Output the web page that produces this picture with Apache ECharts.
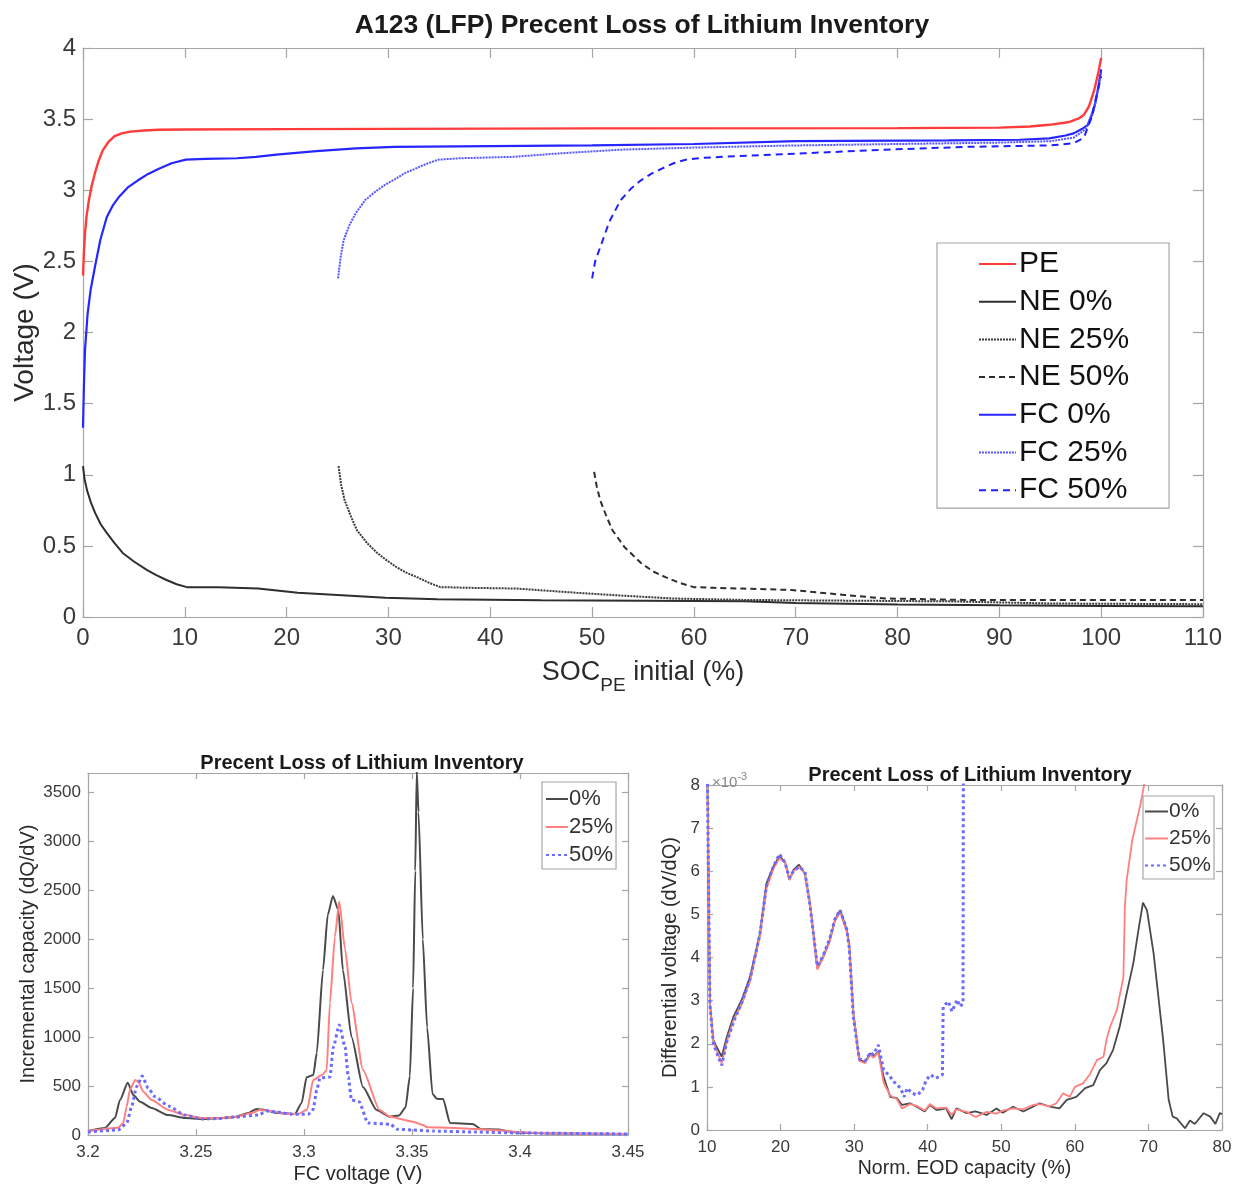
<!DOCTYPE html>
<html><head><meta charset="utf-8">
<script src="https://cdn.jsdelivr.net/npm/echarts@6/dist/echarts.min.js"></script>
<style>html,body{margin:0;padding:0;background:#fff}#c{width:1239px;height:1188px}</style>
</head><body><div id="c"></div>
<script>
// ---------- Top plot: voltage vs SOC_PE initial ----------
const topXTicks = {min: 0, max: 110, interval: 10};
const topYTicks = {min: 0, max: 4, interval: 0.5};
const PE = [[0,2.40],[0.1,2.58],[0.2,2.70],[0.35,2.82],[0.58,2.93],[0.85,3.03],[1.17,3.12],[1.5,3.20],[1.94,3.28],[2.5,3.34],[3.1,3.38],[3.8,3.40],[4.65,3.412],[6,3.42],[7.4,3.425],[10,3.427],[20,3.43],[50,3.435],[80,3.437],[90,3.44],[93,3.448],[94.9,3.46],[96.9,3.48],[97.8,3.505],[98.3,3.53],[98.8,3.59],[99.3,3.70],[99.7,3.82],[100,3.93]];
const NE0 = [[0,1.06],[0.15,0.97],[0.4,0.89],[0.8,0.80],[1.2,0.73],[1.75,0.65],[2.35,0.59],[3.1,0.52],[3.9,0.45],[5,0.39],[6.3,0.33],[7.2,0.295],[8.2,0.26],[9.2,0.23],[10.2,0.21],[13.3,0.21],[17.2,0.2],[21.1,0.17],[25,0.155],[29.7,0.135],[34.8,0.125],[45,0.118],[55,0.115],[65,0.11],[70,0.098],[80,0.088],[90,0.082],[100,0.078],[110,0.075]];
const NE25 = [[25.1,1.06],[25.35,0.93],[25.7,0.82],[26.3,0.71],[26.9,0.61],[27.9,0.52],[28.9,0.45],[29.8,0.40],[30.8,0.35],[31.8,0.31],[32.8,0.28],[34,0.24],[35.1,0.21],[38,0.205],[42.6,0.2],[48.5,0.17],[53,0.15],[58,0.13],[65,0.12],[75,0.115],[85,0.11],[95,0.095],[110,0.09]];
const NE50 = [[50.2,1.02],[50.45,0.92],[50.8,0.82],[51.4,0.71],[52,0.61],[53.2,0.49],[54.8,0.38],[56,0.32],[57.2,0.28],[58.6,0.24],[60,0.21],[62,0.205],[64.8,0.2],[69.6,0.19],[74.8,0.155],[78.8,0.13],[86.8,0.12],[110,0.12]];
const FC0 = [[0,1.33],[0.1,1.65],[0.2,1.88],[0.45,2.13],[0.75,2.30],[1.17,2.46],[1.7,2.65],[2.33,2.81],[2.9,2.89],[3.5,2.95],[4.4,3.02],[5.4,3.07],[6.4,3.115],[7.4,3.15],[8.7,3.19],[10.1,3.215],[12,3.22],[15.1,3.225],[17,3.235],[19,3.25],[22.9,3.275],[26.8,3.295],[30.6,3.305],[40,3.31],[50,3.315],[60,3.325],[70,3.345],[85,3.35],[92,3.355],[94.9,3.365],[96.5,3.385],[97.3,3.40],[98.1,3.43],[98.7,3.46],[99.2,3.55],[99.5,3.64],[99.8,3.76],[100,3.85]];
const FC25 = [[25.05,2.38],[25.3,2.53],[25.6,2.65],[26.2,2.76],[26.8,2.84],[27.7,2.93],[28.7,2.99],[29.7,3.04],[30.7,3.08],[31.6,3.12],[32.6,3.15],[33.7,3.185],[34.9,3.215],[37,3.225],[42.3,3.235],[47,3.26],[52.7,3.285],[60,3.30],[70,3.315],[80,3.325],[90,3.335],[95,3.345],[97.3,3.37],[98.5,3.43],[99.4,3.6],[100,3.83]];
const FC50 = [[50,2.38],[50.3,2.50],[50.8,2.60],[51.7,2.78],[52.8,2.93],[53.8,3.01],[54.8,3.07],[55.8,3.115],[56.8,3.15],[58,3.19],[59.2,3.215],[61,3.228],[62.8,3.235],[70.8,3.26],[78.8,3.285],[86.8,3.305],[94.9,3.315],[97.3,3.33],[98.3,3.37],[99,3.5],[100,3.80]];

// ---------- Bottom-left: incremental capacity ----------
const icXTicks = {min: 3.2, max: 3.45, interval: 0.05};
const icYTicks = {min: 0, max: 3700, interval: 500};
const IC0 = [[3.2,41],[3.2079,72],[3.2125,174],[3.2148,358],[3.2184,535],[3.221,409],[3.2241,340],[3.2295,276],[3.237,204],[3.2449,174],[3.2526,164],[3.26,170],[3.268,184],[3.2742,225],[3.2781,266],[3.282,256],[3.2866,228],[3.2958,215],[3.2989,327],[3.3012,590],[3.3043,613],[3.3059,838],[3.3088,1687],[3.311,2250],[3.3134,2444],[3.3159,2300],[3.318,1687],[3.322,1002],[3.3273,490],[3.3336,256],[3.3398,187],[3.344,200],[3.347,280],[3.349,600],[3.3505,1500],[3.3515,2700],[3.3522,3720],[3.353,3300],[3.355,2000],[3.357,1100],[3.3595,420],[3.3615,370],[3.3644,368],[3.3676,123],[3.378,113],[3.382,60],[3.39,55],[3.395,35],[3.4,22],[3.42,15],[3.45,10]];
const IC25 = [[3.2,41],[3.214,75],[3.2163,123],[3.2179,290],[3.2194,460],[3.2218,562],[3.2233,545],[3.2256,443],[3.2295,358],[3.2372,256],[3.245,204],[3.2526,174],[3.26,172],[3.268,184],[3.2758,225],[3.2796,256],[3.285,245],[3.2912,215],[3.2974,215],[3.3015,260],[3.3042,560],[3.3083,613],[3.3105,665],[3.312,1350],[3.3143,2025],[3.3163,2386],[3.319,1900],[3.322,1350],[3.3273,665],[3.335,256],[3.3398,187],[3.3505,136],[3.355,102],[3.357,80],[3.37,72],[3.3796,61],[3.39,48],[3.4,28],[3.42,15],[3.45,10]];
const IC50 = [[3.2,31],[3.214,51],[3.2179,119],[3.2202,290],[3.2225,494],[3.2251,603],[3.2279,477],[3.231,392],[3.2372,297],[3.245,204],[3.2526,164],[3.26,168],[3.268,184],[3.2789,204],[3.2827,245],[3.2874,235],[3.2943,212],[3.302,212],[3.3042,260],[3.3059,460],[3.3074,583],[3.312,593],[3.3136,900],[3.3163,1125],[3.319,900],[3.3205,593],[3.322,358],[3.3255,340],[3.3296,123],[3.34,110],[3.343,60],[3.35,51],[3.36,40],[3.38,30],[3.4,20],[3.45,10]];

// ---------- Bottom-right: differential voltage (x10^-3) ----------
const dvXTicks = {min: 10, max: 80, interval: 10};
const dvYTicks = {min: 0, max: 8, interval: 1};
const DV0 = [[10,9],[10.4,2.94],[10.86,2.09],[11.3,1.93],[12.0,1.70],[12.7,2.16],[13.6,2.63],[14.7,3.01],[15.85,3.55],[17.2,4.56],[18.1,5.72],[19.0,6.1],[19.85,6.35],[20.6,6.22],[21.2,5.8],[21.75,6.03],[22.5,6.15],[23.3,5.95],[24.0,5.26],[25.0,3.75],[25.8,4.02],[26.7,4.41],[27.4,4.87],[28.1,5.10],[29.0,4.64],[29.35,4.25],[29.9,2.71],[30.7,1.62],[31.5,1.58],[32.2,1.78],[32.6,1.7],[33.3,1.82],[34.0,1.24],[34.9,0.77],[35.8,0.74],[36.5,0.58],[37.6,0.62],[38.5,0.54],[39.6,0.43],[40.3,0.58],[41.2,0.46],[42.5,0.5],[43.25,0.25],[43.9,0.5],[45.3,0.39],[46.5,0.43],[48.0,0.35],[49.35,0.5],[50.2,0.4],[51.6,0.54],[53.0,0.43],[54.3,0.54],[55.2,0.62],[56.6,0.54],[57.9,0.5],[58.9,0.70],[60.2,0.77],[61.4,0.97],[62.5,1.04],[63.4,1.39],[64.3,1.55],[65.2,1.86],[66.1,2.40],[67.05,3.17],[67.95,3.87],[68.7,4.7],[69.26,5.27],[69.8,5.1],[70.7,4.1],[72.0,2.09],[72.75,0.7],[73.3,0.31],[73.85,0.27],[74.97,0.04],[75.65,0.22],[76.3,0.14],[77.5,0.39],[78.4,0.31],[79.1,0.14],[79.7,0.39],[80,0.37]];
const DV25 = [[10,9],[10.4,2.9],[10.86,2.05],[11.3,1.85],[12.0,1.55],[12.7,2.05],[13.6,2.55],[14.7,2.9],[15.85,3.45],[17.2,4.5],[18.1,5.6],[19.0,6.05],[19.85,6.3],[20.6,6.2],[21.2,5.8],[21.75,6.0],[22.5,6.1],[23.3,5.95],[24.0,5.25],[25.0,3.72],[25.8,4.0],[26.7,4.38],[27.4,4.85],[28.1,5.05],[29.0,4.6],[29.35,4.2],[29.9,2.7],[30.7,1.6],[31.5,1.55],[32.2,1.75],[32.6,1.68],[33.3,1.8],[34.0,1.1],[34.9,0.8],[35.8,0.72],[36.5,0.5],[37.6,0.6],[38.5,0.56],[39.6,0.45],[40.3,0.6],[41.2,0.5],[42.5,0.52],[43.25,0.35],[43.9,0.48],[45.3,0.42],[46.5,0.3],[48.0,0.42],[49.35,0.38],[50.2,0.45],[51.6,0.5],[53.0,0.48],[54.3,0.58],[55.2,0.6],[56.6,0.55],[57.5,0.62],[58.4,0.85],[59.3,0.77],[60.0,1.0],[61.1,1.08],[62.0,1.28],[63.0,1.62],[63.9,1.70],[64.3,2.09],[64.8,2.40],[65.7,2.78],[66.6,3.55],[66.8,5.18],[67.05,5.8],[67.8,6.72],[68.85,7.5],[69.2,7.8],[69.5,8.1],[70,9]];
const DV50 = [[10,9],[10.4,2.9],[10.86,2.0],[11.3,1.8],[12.0,1.5],[12.7,2.05],[13.6,2.5],[14.7,2.95],[15.85,3.5],[17.2,4.55],[18.1,5.7],[19.0,6.1],[19.85,6.4],[20.6,6.2],[21.2,5.85],[21.75,6.0],[22.5,6.1],[23.3,6.0],[24.0,5.2],[25.0,3.8],[25.8,4.05],[26.7,4.45],[27.4,4.9],[28.1,5.1],[29.0,4.65],[29.35,4.2],[29.9,2.6],[30.7,1.65],[31.5,1.6],[32.2,1.8],[32.6,1.75],[33.3,1.97],[34.0,1.39],[34.7,1.28],[35.4,1.12],[36.3,0.97],[36.8,0.77],[37.2,0.97],[37.9,0.85],[38.6,0.81],[39.3,0.93],[39.8,1.16],[40.4,1.28],[41.1,1.2],[42.0,1.28],[42.1,2.86],[42.8,2.98],[43.3,2.75],[44.0,3.02],[44.4,2.86],[44.8,2.94],[44.85,9]];

const FONT = 'Liberation Sans, Arial, Helvetica, sans-serif';
const AX = '#a6a6a6', LBL = '#3a3a3a', NAMEC = '#2a2a2a';

function axesPair(gridIndex, ticks, isX, labelSize, tickLen, extra) {
  const base = {
    type: 'value', gridIndex, min: ticks.min, max: ticks.max, interval: ticks.interval,
    splitLine: {show: false}, nameMoveOverlap: false,
    axisLine: {show: true, onZero: false, lineStyle: {color: AX, width: 1.2}},
    axisTick: {show: true, inside: true, length: tickLen, lineStyle: {color: AX, width: 1.2}}
  };
  const main = Object.assign({}, base, {
    position: isX ? 'bottom' : 'left',
    axisLabel: {show: true, color: LBL, fontFamily: FONT, fontSize: labelSize, margin: isX ? 9 : 7,
      showMaxLabel: extra.showMax !== false, formatter: v => String(+v.toFixed(4))},
  }, extra.main || {});
  const sec = Object.assign({}, base, {
    position: isX ? 'top' : 'right', axisLabel: {show: false}
  });
  return [main, sec];
}

const xAxes = [], yAxes = [];
// grid 0 (top)
xAxes.push(...axesPair(0, topXTicks, true, 24, 10, {main: {
  name: '{a|SOC}{b|PE}{a| initial (%)}', nameLocation: 'middle', nameGap: 33,
  nameTextStyle: {color: NAMEC, fontFamily: FONT, rich: {
    a: {fontSize: 27, fontFamily: FONT, color: NAMEC},
    b: {fontSize: 19, fontFamily: FONT, color: NAMEC, padding: [26, 0, 0, 0]}}}
}}));
yAxes.push(...axesPair(0, topYTicks, false, 24, 10, {main: {
  name: 'Voltage (V)', nameLocation: 'middle', nameGap: 44, nameRotate: 90,
  nameTextStyle: {color: NAMEC, fontFamily: FONT, fontSize: 28}
}}));
// grid 1 (bottom-left)
xAxes.push(...axesPair(1, icXTicks, true, 17, 6, {main: {
  name: 'FC voltage (V)', nameLocation: 'middle', nameGap: 29,
  nameTextStyle: {color: NAMEC, fontFamily: FONT, fontSize: 20}
}}));
yAxes.push(...axesPair(1, icYTicks, false, 17, 6, {showMax: false, main: {
  name: 'Incremental capacity (dQ/dV)', nameLocation: 'middle', nameGap: 50, nameRotate: 90,
  nameTextStyle: {color: NAMEC, fontFamily: FONT, fontSize: 20}
}}));
// grid 2 (bottom-right)
xAxes.push(...axesPair(2, dvXTicks, true, 17, 6, {main: {
  name: 'Norm. EOD capacity (%)', nameLocation: 'middle', nameGap: 29,
  nameTextStyle: {color: NAMEC, fontFamily: FONT, fontSize: 19.5}
}}));
yAxes.push(...axesPair(2, dvYTicks, false, 17, 6, {main: {
  name: 'Differential voltage (dV/dQ)', nameLocation: 'middle', nameGap: 27, nameRotate: 90,
  nameTextStyle: {color: NAMEC, fontFamily: FONT, fontSize: 20}
}}));

function line(name, data, gi, color, width, type, smooth) {
  return {
    name, type: 'line', data, xAxisIndex: gi * 2, yAxisIndex: gi * 2,
    showSymbol: false, symbol: 'none', clip: true, silent: true,
    smooth: smooth || false, smoothMonotone: 'x',
    lineStyle: {color, width, type: type || 'solid'}, itemStyle: {color},
    emphasis: {disabled: true}
  };
}

const series = [
  line('NE 0%', NE0, 0, '#2e2e2e', 2),
  line('NE 25%', NE25, 0, '#3a3a3a', 2, [2, 1]),
  line('NE 50%', NE50, 0, '#2e2e2e', 2, [6, 4]),
  line('FC 0%', FC0, 0, '#2626ff', 2.2),
  line('FC 25%', FC25, 0, '#5555ff', 2, [2, 1]),
  line('FC 50%', FC50, 0, '#2020ff', 2, [7, 5]),
  line('PE', PE, 0, '#ff3b3b', 2.4),
  line('0%', IC0, 1, '#4a4a4a', 2, null, 0.2),
  line('25%', IC25, 1, '#ff8080', 2, null, 0.2),
  line('50%', IC50, 1, '#6b6bff', 3, [3, 3], 0.2),
  line('0%', DV0, 2, '#4a4a4a', 1.8),
  line('25%', DV25, 2, '#ff8080', 1.8),
  line('50%', DV50, 2, '#6b6bff', 3, [3, 3])
];

const legendCommon = {orient: 'vertical', selectedMode: false, borderColor: '#a6a6a6', borderWidth: 1.2,
  itemStyle: {opacity: 0}};

const option = {
  animation: false,
  backgroundColor: '#fff',
  textStyle: {fontFamily: FONT},
  title: [
    {text: 'A123 (LFP) Precent Loss of Lithium Inventory', left: 637, top: 7, textAlign: 'center',
     textStyle: {fontFamily: FONT, fontSize: 26.5, fontWeight: 'bold', color: '#1a1a1a'}},
    {text: 'Precent Loss of Lithium Inventory', left: 357, top: 748, textAlign: 'center',
     textStyle: {fontFamily: FONT, fontSize: 20, fontWeight: 'bold', color: '#1a1a1a'}},
    {text: 'Precent Loss of Lithium Inventory', left: 965, top: 760, textAlign: 'center',
     textStyle: {fontFamily: FONT, fontSize: 20, fontWeight: 'bold', color: '#1a1a1a'}},
    {text: '{a|×10}{b|-3}', left: 707, top: 765,
     textStyle: {fontWeight: 'normal', rich: {
       a: {fontFamily: FONT, fontSize: 15, fontWeight: 'normal', color: '#888', padding: [5, 0, 0, 0]},
       b: {fontFamily: FONT, fontSize: 11, fontWeight: 'normal', color: '#888', padding: [0, 0, 7, 0]}}}}
  ],
  grid: [
    {left: 83, top: 48, width: 1120, height: 569, containLabel: false, outerBoundsMode: 'none'},
    {left: 88, top: 773, width: 540, height: 362, containLabel: false, outerBoundsMode: 'none'},
    {left: 707, top: 785, width: 515, height: 345, containLabel: false, outerBoundsMode: 'none'}
  ],
  xAxis: xAxes,
  yAxis: yAxes,
  legend: [
    Object.assign({}, legendCommon, {data: ['PE', 'NE 0%', 'NE 25%', 'NE 50%', 'FC 0%', 'FC 25%', 'FC 50%'],
     left: 937, top: 243, padding: [6, 40, 3, 41], itemGap: 7.7, itemWidth: 37, itemHeight: 14,
     textStyle: {fontFamily: FONT, fontSize: 30, lineHeight: 30, color: '#111', padding: [0, 0, 0, -2]}}),
    Object.assign({}, legendCommon, {data: ['0%', '25%', '50%'],
     left: 542, top: 782, padding: [6, 3, 3, 3], itemGap: 6, itemWidth: 22, itemHeight: 12,
     textStyle: {fontFamily: FONT, fontSize: 22, lineHeight: 22, color: '#333', padding: [0, 0, 0, -4]}}),
    Object.assign({}, legendCommon, {data: ['0%', '25%', '50%'],
     left: 1143, top: 796, padding: [5, 3, 3, 1], itemGap: 6, itemWidth: 23, itemHeight: 12,
     textStyle: {fontFamily: FONT, fontSize: 21, lineHeight: 21, color: '#333', padding: [0, 0, 0, -4]}})
  ],
  series
};

const chart = echarts.init(document.getElementById('c'), null, {renderer: 'canvas'});
chart.setOption(option);
</script>
</body></html>
